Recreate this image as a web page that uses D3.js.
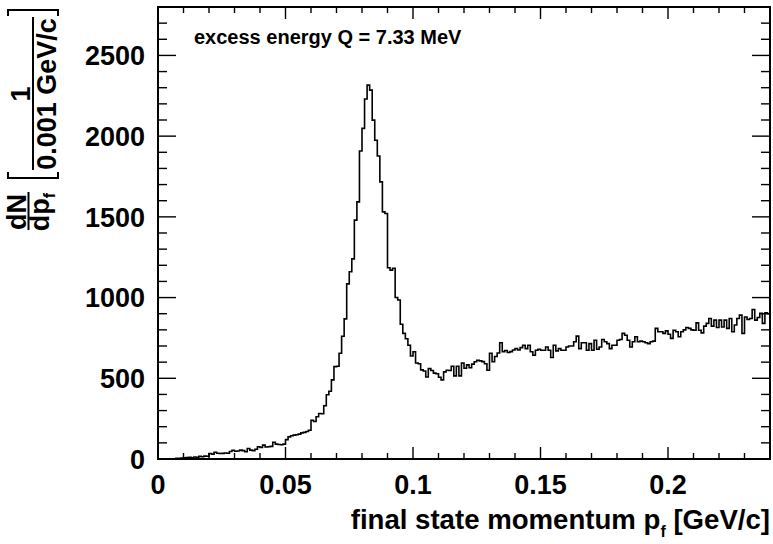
<!DOCTYPE html>
<html>
<head>
<meta charset="utf-8">
<script src="https://cdn.jsdelivr.net/npm/d3@7"></script>
<style>
  html, body { margin: 0; padding: 0; background: #fff; }
  svg { display: block; }
  text { font-family: "Liberation Sans", Arial, Helvetica, sans-serif; font-weight: bold; fill: #000; }
</style>
</head>
<body>
<svg id="chart" width="773" height="544"></svg>
<script>
// ---------------- data ----------------
const binLow = 0.0;
const binWidth = 0.001;
const counts = [
  0,0,0,0,0,0,0,
  4,5,6,8,9,10,8,12,11,16,14,18,17,
  34,30,42,36,34,35,37,36,46,54, 48,50,55,52,45,65,55,52,60,76,
  72,86,74,76,78,104,92,90,88,92, 120,137,144,148,150,154,162,165,170,178,
  240,232,262,282,280,330,398,420,490,572, 575,655,760,868,1085,1160,1240,1480,1593,1908,
  2048,2230,2316,2285,2099,1975,1877,1717,1531,1521, 1185,1170,1182,1000,985,835,778,745,705,638,
  664,595,590,552,545,508,560,548,532,528, 506,490,540,550,548,575,515,575,515,595,
  562,583,565,588,602,612,608,603,590,550, 655,602,635,657,720,665,672,660,665,675,
  684,675,690,705,
  684,705,664,643,674,680,674,674,694,674, 629,705,670,684,674,674,694,700,700,726,
  761,684,720,720,674,715,674,736,680,694, 740,726,715,684,705,705,736,740,778,767,
  736,694,726,757,726,730,726,720,715,726, 730,809,788,
  788,778,794,773,747,798,788,757,788,800, 815,809,800,798,843,798,781,823,840,870,
  823,860,815,860,818,860,809,870,788,830, 870,891,778,880,864,870,926,860,877,902,
  840,905,900
];
const xDomain = [0, 0.24];
const yDomain = [0, 2800];
const xMajorTicks = [0, 0.05, 0.1, 0.15, 0.2];
const xTickLabels = ["0", "0.05", "0.1", "0.15", "0.2"];
const yMajorTicks = [0, 500, 1000, 1500, 2000, 2500];
const yTickLabels = ["0", "500", "1000", "1500", "2000", "2500"];
const annotation = "excess energy Q = 7.33 MeV";

// ---------------- layout ----------------
const L = 158, R = 770, T = 7, B = 459;
const svg = d3.select("#chart");
const x = d3.scaleLinear().domain(xDomain).range([L, R]);
const y = d3.scaleLinear().domain(yDomain).range([B, T]);

// histogram
const pts = [[binLow, 0]];
counts.forEach((c, i) => {
  const x0 = binLow + i * binWidth;
  pts.push([x0, c]);
  pts.push([x0 + binWidth, c]);
});
svg.append("clipPath").attr("id", "clip")
  .append("rect").attr("x", L).attr("y", T).attr("width", R - L).attr("height", B - T);
svg.append("path")
  .attr("clip-path", "url(#clip)")
  .attr("d", d3.line().x(d => x(d[0])).y(d => y(d[1]))(pts))
  .attr("fill", "none").attr("stroke", "#000").attr("stroke-width", 1.6)
  .attr("stroke-linejoin", "miter");

// ticks
const tickG = svg.append("g").attr("stroke", "#000").attr("stroke-width", 1.4);
const xMinor = d3.range(0, 25).map(k => k * 0.01);
xMinor.forEach(v => {
  const major = xMajorTicks.some(m => Math.abs(m - v) < 1e-9);
  const len = major ? 12 : 6;
  const px = x(v);
  tickG.append("line").attr("x1", px).attr("x2", px).attr("y1", B).attr("y2", B - len);
  tickG.append("line").attr("x1", px).attr("x2", px).attr("y1", T).attr("y2", T + len);
});
const yMinor = d3.range(0, 28).map(k => k * 100);
yMinor.forEach(v => {
  const major = yMajorTicks.includes(v);
  const len = major ? 18 : 9;
  const py = y(v);
  tickG.append("line").attr("x1", L).attr("x2", L + len).attr("y1", py).attr("y2", py);
  tickG.append("line").attr("x1", R).attr("x2", R - len).attr("y1", py).attr("y2", py);
});

// frame
svg.append("rect").attr("x", L).attr("y", T).attr("width", R - L).attr("height", B - T)
  .attr("fill", "none").attr("stroke", "#000").attr("stroke-width", 2);

// tick labels
svg.append("g").selectAll("text").data(xMajorTicks).join("text")
  .attr("x", d => x(d)).attr("y", 494).attr("text-anchor", "middle")
  .attr("font-size", 27).text((d, i) => xTickLabels[i]);
svg.append("g").selectAll("text").data(yMajorTicks).join("text")
  .attr("x", 145).attr("y", d => y(d) + 9.7).attr("text-anchor", "end")
  .attr("font-size", 27).text((d, i) => yTickLabels[i]);

// x title
const xt = svg.append("text").attr("x", 770).attr("y", 529).attr("text-anchor", "end").attr("font-size", 27.6);
xt.append("tspan").text("final state momentum p");
xt.append("tspan").attr("font-size", 16).attr("dy", 8).text("f");
xt.append("tspan").attr("dy", -8).text(" [GeV/c]");

// y title (rotated, ROOT-like fractions)
const yt = svg.append("g").attr("transform", "rotate(-90)");
// dN / dp_f
yt.append("text").attr("x", -212).attr("y", 26).attr("text-anchor", "middle").attr("font-size", 27).text("dN");
yt.append("line").attr("x1", -230).attr("x2", -192).attr("y1", 28.5).attr("y2", 28.5).attr("stroke", "#000").attr("stroke-width", 2);
const dp = yt.append("text").attr("x", -212).attr("y", 49).attr("text-anchor", "middle").attr("font-size", 27);
dp.append("tspan").text("dp");
dp.append("tspan").attr("font-size", 16).attr("dy", 6).text("f");
// brackets
yt.append("path").attr("d", "M -172,8 L -178,8 L -178,58 L -172,58")
  .attr("fill", "none").attr("stroke", "#000").attr("stroke-width", 2);
yt.append("path").attr("d", "M -16,8 L -10,8 L -10,58 L -16,58")
  .attr("fill", "none").attr("stroke", "#000").attr("stroke-width", 2);
// 1 / 0.001 GeV/c
yt.append("text").attr("x", -94).attr("y", 29.5).attr("text-anchor", "middle").attr("font-size", 27).text("1");
yt.append("line").attr("x1", -170).attr("x2", -17).attr("y1", 33).attr("y2", 33).attr("stroke", "#000").attr("stroke-width", 2);
yt.append("text").attr("x", -94).attr("y", 56).attr("text-anchor", "middle").attr("font-size", 27).text("0.001 GeV/c");

// annotation
svg.append("text").attr("x", 194).attr("y", 44).attr("font-size", 20).text(annotation);
</script>
</body>
</html>
